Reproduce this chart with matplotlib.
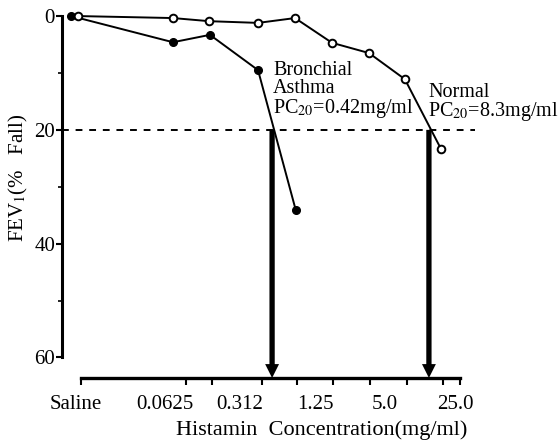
import matplotlib
matplotlib.use("Agg")
import matplotlib.pyplot as plt

plt.rcParams['font.family'] = ['Liberation Serif', 'DejaVu Serif']
plt.rcParams['mathtext.fontset'] = 'stix'

# x positions are dose steps along the (non-uniform) concentration axis
normal_x = [0.22, 2.78, 3.76, 5.08, 6.08, 7.08, 8.08, 9.05, 10.03]
normal_y = [0.0, 0.35, 0.9, 1.2, 0.35, 4.7, 6.5, 11.1, 23.4]

asthma_x = [0.03, 2.78, 3.78, 5.08, 6.1]
asthma_y = [0.0, 4.6, 3.3, 9.5, 34.1]

tick_label_pos = [0.14, 2.57, 4.59, 6.62, 8.51, 10.41]
tick_labels = ['Saline', '0.0625', '0.312', '1.25', '5.0', '25.0']
tick_mark_pos = [0.3, 3.14, 3.84, 5.19, 6.14, 7.11, 8.11, 9.11, 10.08, 10.54]

pc20_x = [5.46, 9.70]   # where each curve crosses 20% fall
pc20_level = 20

fig = plt.figure(figsize=(5.59, 4.45), dpi=100)
ax = fig.add_axes([0.1109, 0.1506, 0.8086, 0.8197])
ax.set_xlim(-0.22, 12)
ax.set_ylim(63.6, -0.5)

for s in ['top', 'right']:
    ax.spines[s].set_visible(False)
ax.spines['left'].set_bounds(0, 60)
ax.spines['left'].set_linewidth(2.2)
ax.spines['bottom'].set_bounds(0.3, 10.54)
ax.spines['bottom'].set_linewidth(2.4)

# curves
ax.plot(normal_x, normal_y, color='black', lw=1.4, marker='o', ms=5.5,
        mfc='white', mec='black', mew=1.4, clip_on=False, zorder=4)
ax.plot(asthma_x, asthma_y, color='black', lw=1.4, marker='o', ms=5.5,
        mfc='black', mec='black', clip_on=False, zorder=3)

# 20% line
ax.plot([-0.22, 10.95], [pc20_level, pc20_level], color='black', lw=1.4,
        ls=(0, (3.5, 3.5)), clip_on=False)

# PC20 arrows
for xp in pc20_x:
    ax.annotate('', xy=(xp, 63.6), xytext=(xp, pc20_level),
                arrowprops=dict(arrowstyle='simple,head_width=0.5,head_length=0.5,tail_width=0.19',
                                mutation_scale=20, fc='black', ec='none',
                                shrinkA=0, shrinkB=0), zorder=2)

ax.text(5.49, 7.9, 'Bronchial\nAsthma\nPC$_{20}$=0.42mg/ml', fontsize=14.5,
        va='top', ha='left', linespacing=0.92)
ax.text(9.68, 11.7, 'Normal\nPC$_{20}$=8.3mg/ml', fontsize=14.5,
        va='top', ha='left', linespacing=0.92)

# y axis ticks
ax.set_yticks([0, 20, 40, 60])
ax.set_yticks([10, 30, 50], minor=True)
ax.tick_params(axis='y', which='major', direction='out', length=4, width=1.5,
               labelsize=15, pad=1)
ax.tick_params(axis='y', which='minor', direction='out', length=3, width=1.2)
ax.set_ylabel('FEV$_1$(%   Fall)', fontsize=15)
ax.yaxis.set_label_coords(-0.07, 0.55)

# x axis ticks
ax.set_xticks(tick_label_pos)
ax.set_xticklabels(tick_labels)
ax.set_xticks(tick_mark_pos, minor=True)
ax.tick_params(axis='x', which='major', length=0, labelsize=15, pad=12)
ax.tick_params(axis='x', which='minor', direction='out', length=5, width=1.5)
ax.set_xlabel('Histamin  Concentration(mg/ml)', fontsize=16)
ax.xaxis.set_label_coords(0.575, -0.117)

fig.savefig('out.png', dpi=100)
